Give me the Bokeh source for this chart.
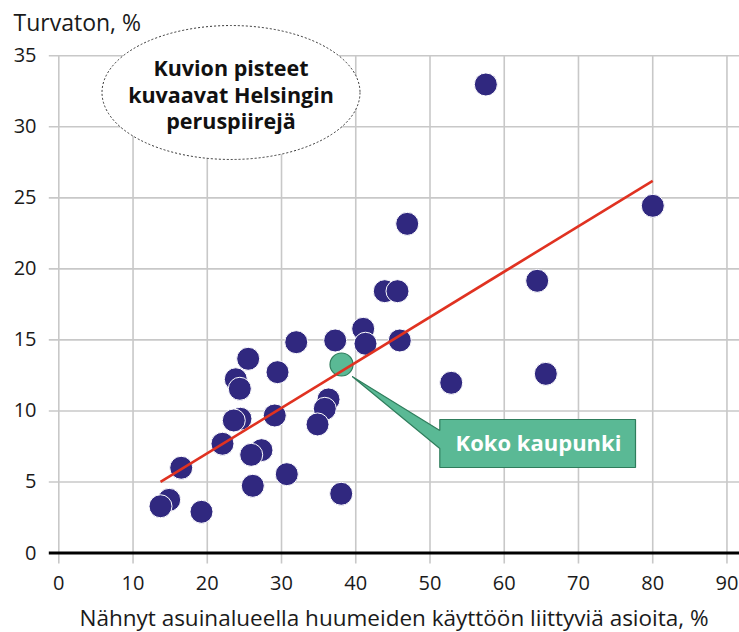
from bokeh.plotting import figure
from bokeh.models import Range1d, Label
from bokeh.embed import file_html
from bokeh.resources import INLINE

# ---------------- data ----------------
district_x = [31.98, 37.23, 41.00, 41.31, 45.93, 25.51, 29.46, 23.84, 24.38, 36.33,
              35.83, 34.85, 29.09, 24.47, 23.57, 22.05, 27.30, 25.92, 16.49, 30.71,
              26.13, 38.04, 14.87, 13.70, 19.22, 46.93, 43.91, 45.62, 57.52, 80.01,
              64.44, 52.86, 65.60]
district_y = [14.84, 14.96, 15.78, 14.73, 14.96, 13.67, 12.73, 12.23, 11.56, 10.81,
              10.15, 9.05, 9.68, 9.45, 9.33, 7.69, 7.24, 6.91, 6.00, 5.55,
              4.73, 4.17, 3.74, 3.29, 2.90, 23.17, 18.43, 18.43, 32.98, 24.44,
              19.16, 11.98, 12.61]
city_x = [38.08]
city_y = [13.27]
fit_x = [13.7, 80.0]
fit_y = [5.0, 26.2]
x_ticks = [0, 10, 20, 30, 40, 50, 60, 70, 80, 90]
y_ticks = [0, 5, 10, 15, 20, 25, 30, 35]
x_tick_labels = [str(t) for t in x_ticks]
y_tick_labels = [str(t) for t in y_ticks]
x_title = "Nähnyt asuinalueella huumeiden käyttöön liittyviä asioita, %"
y_title = "Turvaton, %"
note_lines = ["Kuvion pisteet", "kuvaavat Helsingin", "peruspiirejä"]
city_label = "Koko kaupunki"

# ---------------- layout (frame covers the whole canvas) ----------------
W, H = 739, 632
PX0, PY0 = 58.3, 552.5      # pixel of data (0, 0)
SX, SY = 7.424, 14.206      # pixels per data unit
X0 = -PX0 / SX
X1 = X0 + W / SX
Y1 = PY0 / SY
Y0 = Y1 - H / SY
FONT = "Open Sans"
INK = "#1a1a1a"


def dx(px):  # canvas pixel -> data x
    return X0 + px / SX


def dy(py):  # canvas pixel -> data y
    return Y1 - py / SY


p = figure(width=W, height=H, output_backend="svg", toolbar_location=None,
           x_range=Range1d(X0, X1), y_range=Range1d(Y0, Y1),
           min_border=0, x_axis_location=None, y_axis_location=None)
p.outline_line_color = None
p.xgrid.visible = False
p.ygrid.visible = False
p.background_fill_color = "white"
p.border_fill_color = "white"

grid_col = "#c8c8c8"
grid_left = dx(48.3)
grid_bottom = dy(563)
# vertical grid lines (run a little below zero, like ticks)
p.segment(x0=x_ticks, y0=[grid_bottom] * len(x_ticks), x1=x_ticks,
          y1=[max(y_ticks)] * len(x_ticks), line_color=grid_col, line_width=1.6)
# horizontal grid lines
hy = [t for t in y_ticks if t != 0]
p.segment(x0=[grid_left] * len(hy), y0=hy, x1=[X1] * len(hy), y1=hy,
          line_color=grid_col, line_width=1.6)
# zero line
p.segment(x0=[grid_left], y0=[0], x1=[X1], y1=[0], line_color="black", line_width=2.8)

# tick labels
p.text(x=x_ticks, y=[0] * len(x_ticks), text=x_tick_labels, y_offset=30,
       text_align="center", text_baseline="alphabetic", text_font={"value": FONT},
       text_font_size="20px", text_color=INK)
p.text(x=[0] * len(y_ticks), y=y_ticks, text=y_tick_labels, x_offset=-22.3, y_offset=-0.5,
       text_align="right", text_baseline="alphabetic", text_font={"value": FONT},
       text_font_size="20px", text_color=INK)

# note ellipse
p.ellipse(x=[dx(230.5)], y=[dy(92)], width=258, height=134,
          width_units="screen", height_units="screen",
          fill_color="white", line_color="#333333", line_dash="2 2", line_width=1)
for line, base in zip(note_lines, [67, 93.5, 120]):
    p.add_layout(Label(x=dx(230.5), y=dy(base), text=line, text_align="center",
                       text_baseline="alphabetic", text_font=FONT, text_font_size="21.5px",
                       text_font_style="bold", text_color="#111111"))

# callout for city point (pixel offsets from the city point)
cx_px = PX0 + city_x[0] * SX
cy_px = PY0 - city_y[0] * SY
offs = [(10.7, 12), (98.3, 66), (98.3, 55), (294, 55), (294, 103), (98.3, 103), (98.3, 84)]
bx = [dx(cx_px + ox) for ox, oy in offs]
by = [dy(cy_px + oy) for ox, oy in offs]
p.patch(bx, by, fill_color="#5ab995", line_color="#2f7d5c", line_width=1.2)
p.add_layout(Label(x=dx(cx_px + 197), y=dy(cy_px + 77.5), text=city_label,
                   text_align="center", text_baseline="alphabetic", text_font=FONT,
                   text_font_size="22px", text_font_style="bold", text_color="white"))

# district points
p.scatter(district_x, district_y, size=23, fill_color="#30287f",
          line_color="white", line_width=1)
# city point
p.scatter(city_x, city_y, size=23, fill_color="#5ab995",
          line_color="#2f7d5c", line_width=1.2)
# fit line
p.line(fit_x, fit_y, line_color="#e03221", line_width=2.6)

# titles
p.add_layout(Label(x=dx(13), y=dy(21.7), text=y_title, text_align="left",
                   text_baseline="alphabetic", text_font=FONT, text_font_size="23px",
                   text_color=INK))
p.add_layout(Label(x=dx(393.5), y=dy(616.5), text=x_title, text_align="center",
                   text_baseline="alphabetic", text_font=FONT, text_font_size="22.5px",
                   text_color=INK))

open("out.html", "w").write(file_html(p, INLINE))
